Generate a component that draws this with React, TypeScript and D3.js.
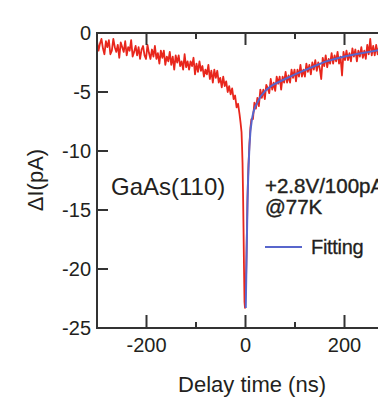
import React from "react";
import * as d3 from "d3";

// Measured signal (delay time ns, ΔI pA)
const signalData: [number, number][] = [
  [-300, -0.7], [-297, -1.5], [-294, -0.9], [-291, -0.5], [-288, -1.3], [-285, -1.8], [-282, -0.7], [-279, -1.2],
  [-276, -0.6], [-273, -1.8], [-270, -1.5], [-267, -0.5], [-264, -1.2], [-261, -1.6], [-258, -1.0], [-255, -2.1],
  [-252, -0.8], [-249, -1.2], [-246, -1.6], [-243, -0.7], [-240, -1.9], [-237, -1.2], [-234, -1.5], [-231, -0.6],
  [-228, -2.0], [-225, -1.6], [-222, -1.1], [-219, -1.9], [-216, -1.2], [-213, -2.2], [-210, -1.4], [-207, -1.1],
  [-204, -1.9], [-201, -2.2], [-198, -1.0], [-195, -1.7], [-192, -2.2], [-189, -1.4], [-186, -2.0], [-183, -1.1],
  [-180, -2.2], [-177, -1.7], [-174, -2.6], [-171, -1.5], [-168, -2.1], [-165, -1.5], [-162, -2.7], [-159, -2.0],
  [-156, -2.4], [-153, -1.6], [-150, -2.7], [-147, -2.0], [-144, -3.1], [-141, -1.9], [-138, -2.5], [-135, -1.9],
  [-132, -2.8], [-129, -2.4], [-126, -3.1], [-123, -1.8], [-120, -2.9], [-117, -2.4], [-114, -3.1], [-111, -2.4],
  [-108, -2.8], [-105, -2.1], [-102, -3.5], [-99, -2.6], [-96, -3.3], [-93, -2.4], [-90, -3.2], [-87, -2.8],
  [-84, -3.7], [-81, -3.1], [-78, -3.5], [-75, -2.7], [-72, -3.9], [-69, -3.2], [-66, -4.2], [-63, -3.1],
  [-60, -3.8], [-57, -3.2], [-54, -4.2], [-51, -3.8], [-48, -4.6], [-45, -3.7], [-42, -4.5], [-39, -4.1],
  [-36, -5.0], [-33, -4.5], [-30, -5.2], [-27, -4.7], [-24, -5.6], [-21, -5.3], [-18, -6.3], [-15, -6.0],
  [-12, -6.9], [-10, -7.6], [-8, -8.4], [-7, -9.6], [-6, -11.0], [-5, -13.5], [-4, -16.5], [-3, -20.0],
  [-2, -22.8], [-1, -23.3], [0, -21.5], [1, -21.0], [2, -18.8], [3, -16.5], [4, -14.0], [5, -12.5],
  [6, -11.2], [8, -9.4], [10, -8.0], [12, -7.3], [15, -7.3], [18, -5.9], [21, -6.4], [24, -5.5],
  [27, -6.2], [30, -4.8], [33, -5.5], [36, -4.8], [39, -5.6], [42, -4.4], [45, -4.7], [48, -5.1],
  [51, -3.9], [54, -4.8], [57, -4.2], [60, -4.9], [63, -3.7], [66, -4.3], [69, -3.7], [72, -4.8],
  [75, -3.7], [78, -4.2], [81, -3.3], [84, -4.2], [87, -3.6], [90, -4.2], [93, -3.1], [96, -3.8],
  [99, -3.1], [102, -4.1], [105, -3.1], [108, -3.7], [111, -2.7], [114, -3.7], [117, -3.1], [120, -3.7],
  [123, -2.6], [126, -3.3], [129, -2.7], [132, -3.5], [135, -2.5], [138, -3.1], [141, -2.3], [144, -3.2],
  [147, -2.5], [150, -3.0], [153, -3.9], [156, -2.1], [159, -2.8], [162, -1.9], [165, -2.9], [168, -2.2],
  [171, -2.6], [174, -1.7], [177, -2.6], [180, -1.9], [183, -2.4], [186, -1.6], [189, -2.6], [192, -2.0],
  [195, -3.6], [198, -1.6], [201, -2.3], [204, -1.5], [207, -2.3], [210, -1.7], [213, -2.4], [216, -1.3],
  [219, -2.0], [222, -1.4], [225, -2.4], [228, -1.5], [231, -2.0], [234, -1.2], [237, -2.1], [240, -1.5],
  [243, -2.2], [246, -1.0], [249, -1.8], [252, -0.5], [255, -1.9], [258, -1.1], [261, -1.9], [264, -1.0],
  [267, -1.8], [270, -1.1], [273, -1.9], [276, -1.0], [279, -1.6], [282, -0.9], [285, -1.7], [288, -1.1],
];

// Fitting curve
const fitData: [number, number][] = [
  [0.5, -23.3], [1, -22.0], [2, -19.5], [3, -17.0], [4, -14.5], [5, -12.8], [6, -11.5], [8, -9.6],
  [10, -8.3], [13, -7.3], [16, -6.7], [20, -6.2], [24, -5.9], [30, -5.4], [40, -4.9], [50, -4.55],
  [60, -4.3], [80, -3.9], [100, -3.5], [120, -3.15], [140, -2.8], [160, -2.45], [180, -2.2], [200, -2.0],
  [225, -1.78], [250, -1.6], [270, -1.44], [290, -1.3],
];

const xMajorTicks = [-200, 0, 200];
const xMinorTicks = [-300, -100, 100, 300];
const yTicks = [0, -5, -10, -15, -20, -25];

const textColor = "#231f20";
const axisColor = "#333";
const font = "'Liberation Sans', Arial, Helvetica, sans-serif";

export default function App() {
  const left = 97, right = 394, top = 33, bottom = 328;
  const x = d3.scaleLinear().domain([-300, 300]).range([left, right]);
  const y = d3.scaleLinear().domain([-25, 0]).range([bottom, top]);
  const line = d3.line<[number, number]>().x((d) => x(d[0])).y((d) => y(d[1]));

  return (
    <svg width={378} height={397} style={{ position: "absolute", left: 0, top: 0 }}>
      <defs>
        <clipPath id="plot">
          <rect x={left} y={top - 2} width={right - left} height={bottom - top + 4} />
        </clipPath>
      </defs>
      <g clipPath="url(#plot)">
        <path d={line(signalData) || ""} fill="none" stroke="#e8261c" strokeWidth={1.8} strokeLinejoin="round" />
        <path d={line(fitData) || ""} fill="none" stroke="#5866cc" strokeWidth={2} />
      </g>
      {/* axes */}
      <line x1={left} x2={left} y1={top - 1} y2={bottom + 1} stroke={axisColor} strokeWidth={2} />
      <line x1={left - 1} x2={400} y1={bottom} y2={bottom} stroke={axisColor} strokeWidth={2} />
      <line x1={left - 1} x2={400} y1={top} y2={top} stroke={axisColor} strokeWidth={2} />
      {xMajorTicks.map((t) => (
        <g key={"M" + t}>
          <line x1={x(t)} x2={x(t)} y1={bottom} y2={bottom - 13} stroke={axisColor} strokeWidth={2} />
          <line x1={x(t)} x2={x(t)} y1={top} y2={top + 12} stroke={axisColor} strokeWidth={2} />
          <text x={x(t)} y={352} textAnchor="middle" fontSize={20} fontFamily={font} fill={textColor}>
            {t}
          </text>
        </g>
      ))}
      {xMinorTicks.map((t) => (
        <g key={"m" + t}>
          <line x1={x(t)} x2={x(t)} y1={bottom} y2={bottom - 6} stroke={axisColor} strokeWidth={2} />
          <line x1={x(t)} x2={x(t)} y1={top} y2={top + 6} stroke={axisColor} strokeWidth={2} />
        </g>
      ))}
      {yTicks.map((t) => (
        <g key={"y" + t}>
          <line x1={left} x2={left + 11} y1={y(t)} y2={y(t)} stroke={axisColor} strokeWidth={2} />
          <text x={91} y={y(t)} dy="0.36em" textAnchor="end" fontSize={20} fontFamily={font} fill={textColor}>
            {t}
          </text>
        </g>
      ))}
      <text x={252} y={392} textAnchor="middle" fontSize={22} fontFamily={font} fill={textColor}>
        Delay time (ns)
      </text>
      <text
        transform="translate(43,180) rotate(-90)"
        textAnchor="middle"
        fontSize={22}
        fontFamily={font}
        fill={textColor}
      >
        ΔI(pA)
      </text>
      <text x={111} y={195} fontSize={24} fontFamily={font} fill={textColor}>
        GaAs(110)
      </text>
      <text x={265} y={193} fontSize={20.5} fontFamily={font} fill={textColor} stroke={textColor} strokeWidth={0.4}>
        +2.8V/100pA
      </text>
      <text x={265} y={214} fontSize={20.5} fontFamily={font} fill={textColor} stroke={textColor} strokeWidth={0.4}>
        @77K
      </text>
      <line x1={265} x2={302} y1={247} y2={247} stroke="#5866cc" strokeWidth={2} />
      <text x={311} y={254} fontSize={20} fontFamily={font} fill={textColor} stroke={textColor} strokeWidth={0.3} letterSpacing={-0.3}>
        Fitting
      </text>
    </svg>
  );
}
